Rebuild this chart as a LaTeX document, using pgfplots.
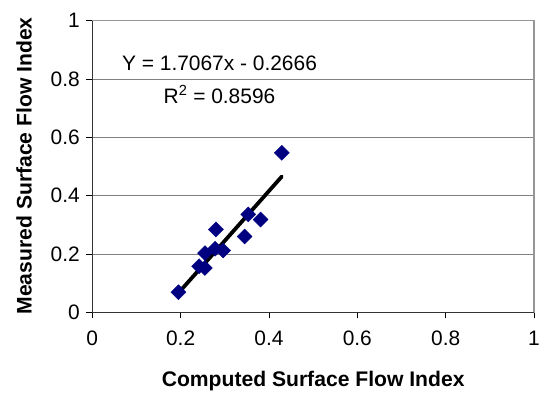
\documentclass[border=0pt]{standalone}
\usepackage{fontspec}
\setmainfont{Liberation Sans}
\usepackage{pgfplots}
\pgfplotsset{compat=1.18}
\definecolor{navymark}{RGB}{0,0,128}
\definecolor{gridgray}{RGB}{128,128,128}
\definecolor{boxgray}{RGB}{150,150,150}
\begin{document}
\begin{tikzpicture}[x=1bp,y=1bp]
\path[use as bounding box] (-92.3bp,-80.7bp) rectangle (448.7bp,312.3bp);
\begin{axis}[
  at={(0,0)}, anchor=south west,
  scale only axis,
  width=441.7bp, height=291.6bp,
  xmin=0, xmax=1, ymin=0, ymax=1,
  xtick={0,0.2,0.4,0.6,0.8,1},
  ytick={0,0.2,0.4,0.6,0.8,1},
  xtick pos=left, ytick pos=left,
  tick align=outside,
  major tick length=6bp,
  tick style={black, line width=0.8bp},
  ymajorgrids,
  grid style={gridgray, line width=0.8bp},
  axis line style={boxgray, line width=1.2bp},
  /pgf/number format/assume math mode=true,
  ticklabel style={font=\fontsize{21}{25}\selectfont, text=black},
  xticklabel style={yshift=-9bp},
  yticklabel style={xshift=-3bp},
  clip=false,
]
\addplot[only marks, mark=square*, mark size=5.3bp, mark options={rotate=45, fill=navymark, draw=navymark}]
coordinates {
(0.195,0.069)
(0.242,0.158)
(0.255,0.152)
(0.255,0.203)
(0.278,0.218)
(0.280,0.284)
(0.296,0.212)
(0.345,0.260)
(0.353,0.336)
(0.381,0.318)
(0.429,0.547)
};
\addplot[black, line width=3.8bp, line cap=round, no marks]
coordinates {(0.195,0.0662) (0.429,0.4656)};
\draw[black!80, line width=1.5bp] (rel axis cs:0,1) -- (rel axis cs:0,0) -- (rel axis cs:1,0);
\node[anchor=base, font=\fontsize{21}{25}\selectfont] at (axis cs:0.288,0.829) {Y = 1.7067x - 0.2666};
\node[anchor=base, font=\fontsize{21}{25}\selectfont] at (axis cs:0.288,0.717) {R\textsuperscript{2} = 0.8596};
\end{axis}
\node[anchor=base, font=\fontsize{21.2}{25}\selectfont\bfseries] at (220.85bp,-73.7bp) {Computed Surface Flow Index};
\node[rotate=90, anchor=base, font=\fontsize{21.2}{25}\selectfont\bfseries] at (-60.6bp,146.4bp) {Measured Surface Flow Index};
\end{tikzpicture}
\end{document}
